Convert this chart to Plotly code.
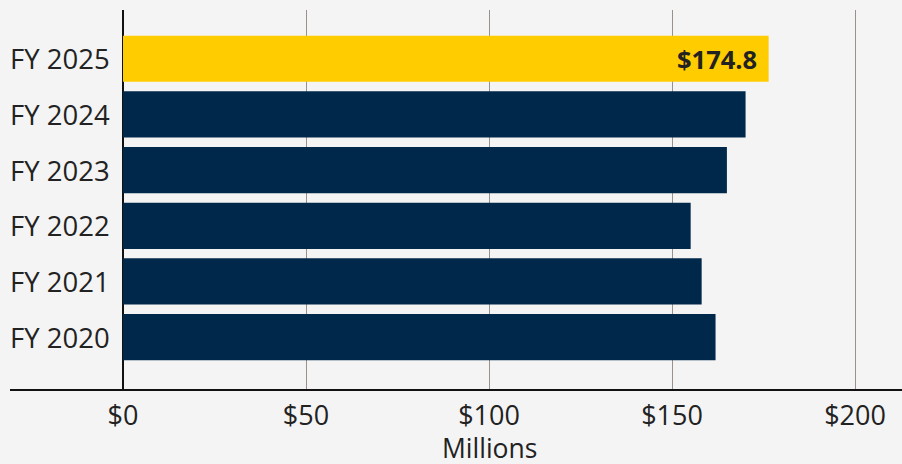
import plotly.graph_objects as go

categories = ["FY 2020", "FY 2021", "FY 2022", "FY 2023", "FY 2024", "FY 2025"]
values = [161.9, 158.1, 155.1, 165.0, 170.1, 176.4]
highlight_label = "$174.8"
tick_vals = [0, 50, 100, 150, 200]
tick_text = ["$0", "$50", "$100", "$150", "$200"]
axis_title = "Millions"

NAVY = "#00284A"
GOLD = "#FFCC00"
BG = "#F4F4F4"
TEXT = "#222222"
FONT = "Open Sans"

colors = [NAVY] * (len(categories) - 1) + [GOLD]

W, H = 902, 464
L, R, T, B = 123, 0, 10, 74
plot_w = W - L - R

fig = go.Figure(go.Bar(
    x=values, y=categories, orientation="h",
    marker=dict(color=colors, line=dict(width=0)),
    hoverinfo="skip",
))

annotations = []
for c in categories:
    annotations.append(dict(
        x=-(L - 8) / plot_w, xref="paper", y=c, yref="y",
        text=c, showarrow=False, xanchor="left", yanchor="middle",
        font=dict(family=FONT, size=27.5, color=TEXT),
    ))
annotations.append(dict(
    x=values[-1], xref="x", y=categories[-1], yref="y",
    text="<b>" + highlight_label + "</b>", showarrow=False,
    xanchor="right", yanchor="middle", xshift=-10,
    font=dict(family=FONT, size=25.5, color=TEXT),
))
annotations.append(dict(
    x=100, xref="x", y=-(448 - (H - B)) / (H - T - B), yref="paper",
    text=axis_title, showarrow=False, xanchor="center", yanchor="middle",
    font=dict(family=FONT, size=26.5, color=TEXT),
))

fig.update_layout(
    width=W, height=H,
    margin=dict(l=L, r=R, t=T, b=B, pad=0),
    paper_bgcolor=BG, plot_bgcolor=BG,
    bargap=0.17,
    showlegend=False,
    font=dict(family=FONT, color=TEXT),
    xaxis=dict(
        range=[0, (W - L - R) / 3.66],
        tickvals=tick_vals, ticktext=tick_text,
        showgrid=True, gridcolor="#9B918C", gridwidth=1,
        zeroline=True, zerolinecolor="#111111", zerolinewidth=2,
        showline=False, ticks="", ticklabelstandoff=7,
        tickfont=dict(family=FONT, size=27, color=TEXT),
        fixedrange=True,
    ),
    yaxis=dict(
        range=[-0.95, 5.876],
        showticklabels=False, showgrid=False, zeroline=False,
        showline=False, ticks="", fixedrange=True,
    ),
    annotations=annotations,
    shapes=[dict(
        type="line", xref="paper", yref="paper",
        x0=-(L - 10) / plot_w, x1=1, y0=0, y1=0,
        line=dict(color="#111111", width=2),
    )],
)

fig.write_html("out.html", config={"displayModeBar": False},
               post_script="document.body.style.margin='0';document.body.style.background='#F4F4F4';")
